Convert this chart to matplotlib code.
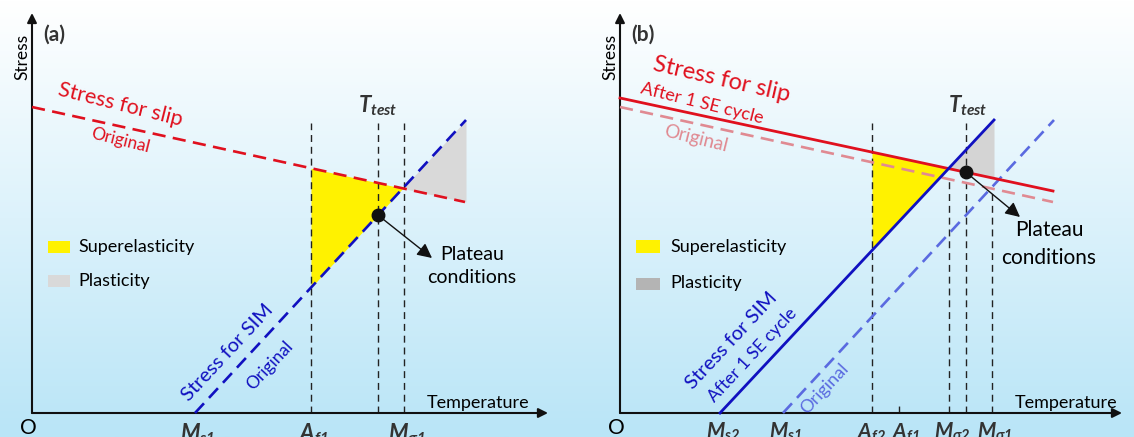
import numpy as np
import matplotlib.pyplot as plt
from matplotlib.colors import LinearSegmentedColormap

plt.rcParams['font.family'] = ['Lato', 'DejaVu Sans']
plt.rcParams['mathtext.fontset'] = 'custom'
plt.rcParams['mathtext.rm'] = 'Lato:bold:italic'
plt.rcParams['mathtext.it'] = 'Lato:bold:italic'
plt.rcParams['mathtext.bf'] = 'Lato:bold:italic'

# characteristic temperatures (arbitrary units)
Ms1, Af1, T_test, Md1 = 163, 279, 346, 372
Ms2, Af2, Md2 = 100, 252, 329

# stress lines as (temperature ends, stress ends)
slip_orig_T, slip_orig_S = [0, 433], [306, 211]
slip_cyc_T, slip_cyc_S = [0, 433], [315, 222]
sim_orig_T, sim_orig_S = [Ms1, 434], [0, 293]
sim_cyc_T, sim_cyc_S = [Ms2, 374], [0, 293]

RED = '#e0101e'
PINK = '#e08a92'
BLUE = '#1010c0'
LBLUE = '#5a6ae0'
YELLOW = '#fff200'


def line_at(T, xs, ys):
    return np.interp(T, xs, ys)


fig = plt.figure(figsize=(11.34, 4.37), dpi=100)

# background gradient
bg = fig.add_axes([0, 0, 1, 1])
cmap = LinearSegmentedColormap.from_list('bg', ['#ffffff', '#b9e5f7'])
bg.imshow(np.linspace(0, 1, 256).reshape(-1, 1), aspect='auto', cmap=cmap,
          extent=[0, 1, 0, 1], origin='upper')
bg.axis('off')

axA = fig.add_axes([0, 0, 0.5, 1])
axB = fig.add_axes([0.5, 0, 0.5, 1])
axA.set_xlim(-32, 535)
axB.set_xlim(-53, 514)
for ax in (axA, axB):
    ax.set_ylim(-24, 413)
    ax.patch.set_alpha(0)
    ax.axis('off')

vdash = dict(color='#222222', lw=1.0, dashes=(5, 3.5), zorder=2)
axis_arrow = dict(arrowstyle='-|>', color='#111111', lw=1.5, mutation_scale=14,
                  shrinkA=0, shrinkB=0)
pointer = dict(arrowstyle='-|>', color='#111111', lw=1.0, mutation_scale=22,
               shrinkA=0, shrinkB=0)


def frame(ax, label, xend):
    ax.annotate('', xy=(0, 400), xytext=(0, 0), arrowprops=axis_arrow)
    ax.annotate('', xy=(xend, 0), xytext=(0, 0), arrowprops=axis_arrow)
    ax.text(11, 378, label, fontsize=15, fontweight='bold', color='#333333',
            va='center', ha='left')
    ax.text(-10, 356, 'Stress', rotation=90, fontsize=12.5, ha='center', va='center')
    ax.text(-4, -15, 'O', fontsize=15, ha='center', va='center')
    ax.text(446, 10, 'Temperature', fontsize=13, ha='center', va='center')


# ---------------- panel (a) ----------------
frame(axA, '(a)', 516)
T = np.linspace(Af1, sim_orig_T[1], 400)
sim = line_at(T, sim_orig_T, sim_orig_S)
slip = line_at(T, slip_orig_T, slip_orig_S)
axA.fill_between(T, sim, slip, where=sim <= slip, interpolate=True,
                 color=YELLOW, lw=0, zorder=1)
axA.fill_between(T, sim, slip, where=sim >= slip, interpolate=True,
                 color='#d9d9d9', lw=0, zorder=1)
for t in (Af1, T_test, Md1):
    axA.plot([t, t], [0, 290], **vdash)
axA.plot(slip_orig_T, slip_orig_S, color=RED, lw=1.9, dashes=(5, 2.8), zorder=3)
axA.plot(sim_orig_T, sim_orig_S, color=BLUE, lw=1.9, dashes=(5, 2.8), zorder=3)
dotA = line_at(T_test, sim_orig_T, sim_orig_S)
axA.plot([T_test], [dotA], 'o', color='#111111', ms=9, zorder=4)
axA.annotate('', xy=(400, 155), xytext=(T_test, dotA), arrowprops=pointer)
axA.text(440, 147, 'Plateau\nconditions', fontsize=14, ha='center', va='center',
         linespacing=1.45)

axA.text(88, 308, 'Stress for slip', color=RED, fontsize=15.5, rotation=-14,
         ha='center', va='center', rotation_mode='anchor')
axA.text(88, 272, 'Original', color=RED, fontsize=12.5, rotation=-14,
         ha='center', va='center', rotation_mode='anchor')
axA.text(196, 60, 'Stress for SIM', color=BLUE, fontsize=14.5, rotation=47,
         ha='center', va='center', rotation_mode='anchor')
axA.text(238, 47, 'Original', color=BLUE, fontsize=12.5, rotation=47,
         ha='center', va='center', rotation_mode='anchor')
axA.text(T_test, 307, r'$T_{test}$', fontsize=16, ha='center', va='center',
         color='#333333')

axA.fill_between([16, 38], 160, 172, color=YELLOW, lw=0)
axA.text(46, 166, 'Superelasticity', fontsize=13, va='center')
axA.fill_between([16, 38], 126, 138, color='#d9d9d9', lw=0)
axA.text(46, 132, 'Plasticity', fontsize=13, va='center')

for t, lab in ((Ms1, r'$M_{s1}$'), (Af1, r'$A_{f1}$'), (Md1, r'$M_{\sigma1}$')):
    axA.text(t + 3, -8, lab, fontsize=16, ha='center', va='top', color='#333333')

# ---------------- panel (b) ----------------
frame(axB, '(b)', 502)
T = np.linspace(Af2, sim_cyc_T[1], 400)
sim = line_at(T, sim_cyc_T, sim_cyc_S)
slip = line_at(T, slip_cyc_T, slip_cyc_S)
axB.fill_between(T, sim, slip, where=sim <= slip, interpolate=True,
                 color=YELLOW, lw=0, zorder=1)
axB.fill_between(T, sim, slip, where=sim >= slip, interpolate=True,
                 color='#d4d4d4', lw=0, zorder=1)
for t in (Af2, T_test):
    axB.plot([t, t], [0, 290], **vdash)
for t in (Md2, Md1):
    axB.plot([t, t], [0, line_at(t, slip_orig_T, slip_orig_S)], **vdash)
axB.plot([Af1, Af1], [0, 10], **vdash)

axB.plot(slip_orig_T, slip_orig_S, color=PINK, lw=1.9, dashes=(5, 2.8), zorder=3)
axB.plot(sim_orig_T, sim_orig_S, color=LBLUE, lw=1.9, dashes=(5, 2.8), zorder=3)
axB.plot(slip_cyc_T, slip_cyc_S, color=RED, lw=2.0, zorder=3)
axB.plot(sim_cyc_T, sim_cyc_S, color=BLUE, lw=2.0, zorder=3)
dotB = line_at(T_test, slip_cyc_T, slip_cyc_S)
axB.plot([T_test], [dotB], 'o', color='#111111', ms=9, zorder=4)
axB.annotate('', xy=(400, 196), xytext=(T_test, dotB), arrowprops=pointer)
axB.text(429, 169, 'Plateau\nconditions', fontsize=15, ha='center', va='center',
         linespacing=1.45)

axB.text(102, 333, 'Stress for slip', color=RED, fontsize=17, rotation=-13,
         ha='center', va='center', rotation_mode='anchor')
axB.text(82, 310, 'After 1 SE cycle', color=RED, fontsize=13, rotation=-14,
         ha='center', va='center', rotation_mode='anchor')
axB.text(76, 274, 'Original', color=PINK, fontsize=13.5, rotation=-14,
         ha='center', va='center', rotation_mode='anchor')
axB.text(112, 72, 'Stress for SIM', color=BLUE, fontsize=14.5, rotation=47,
         ha='center', va='center', rotation_mode='anchor')
axB.text(133, 58, 'After 1 SE cycle', color=BLUE, fontsize=12.5, rotation=47,
         ha='center', va='center', rotation_mode='anchor')
axB.text(205, 24, 'Original', color=LBLUE, fontsize=13, rotation=47,
         ha='center', va='center', rotation_mode='anchor')
axB.text(T_test + 2, 307, r'$T_{test}$', fontsize=16, ha='center', va='center',
         color='#333333')

axB.fill_between([16, 40], 160, 173, color=YELLOW, lw=0)
axB.text(50, 166, 'Superelasticity', fontsize=13, va='center')
axB.fill_between([16, 40], 123, 135, color='#b4b4b4', lw=0)
axB.text(50, 130, 'Plasticity', fontsize=13, va='center')

for t, dx, lab in ((Ms2, 3, r'$M_{s2}$'), (Ms1, 3, r'$M_{s1}$'), (Af2, 0, r'$A_{f2}$'),
                   (Af1, 7, r'$A_{f1}$'), (Md2, 3, r'$M_{\sigma2}$'),
                   (Md1, 3, r'$M_{\sigma1}$')):
    axB.text(t + dx, -8, lab, fontsize=15, ha='center', va='top', color='#333333')

fig.savefig('out.png', dpi=100)
